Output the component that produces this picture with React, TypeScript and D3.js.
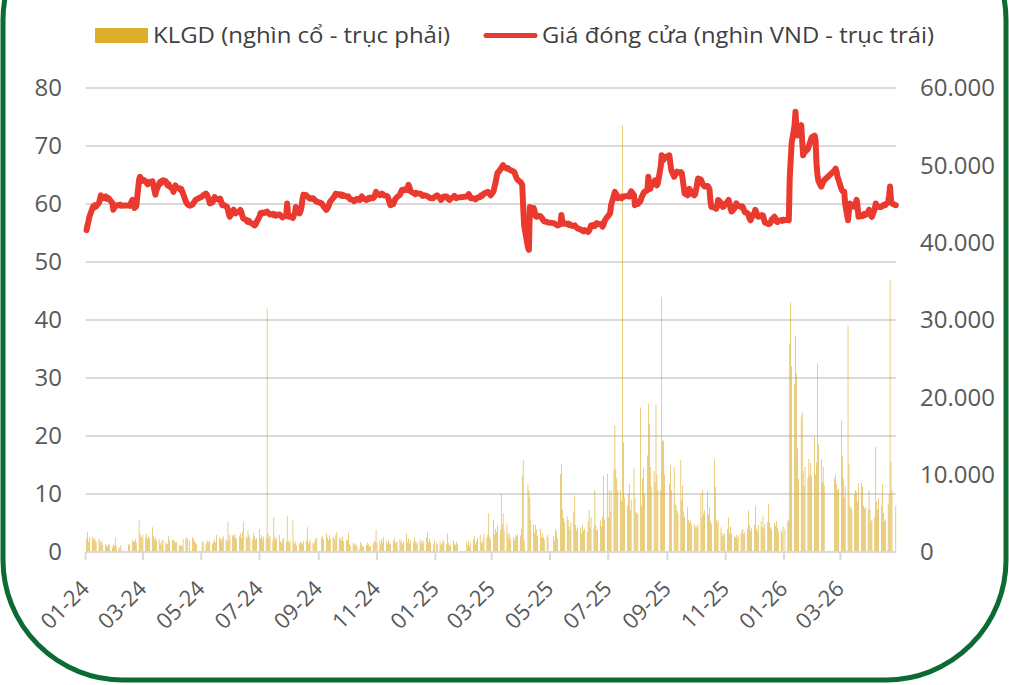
import { useEffect, useRef } from "react";
import * as d3 from "d3";

// Giá đóng cửa (nghìn VND) - one array per month, one value per trading day
const close2024 = [
  [55.5, 56.3, 57.0, 57.8, 59.2, 59.6, 59.4, 59.8, 59.6, 60.2, 60.8, 61.5, 61.2, 61.0, 61.3, 60.9, 61.1, 61.0, 60.8, 60.2, 59.0, 59.6],
  [59.5, 59.8, 59.8, 59.9, 59.7, 59.8, 59.7, 60.7, 60.2, 59.3, 59.5, 59.6, 64.2, 64.7, 64.3, 64.0],
  [64.2, 63.9, 63.6, 63.4, 63.6, 63.8, 63.9, 63.2, 62.4, 61.6, 62.3, 63.5, 63.8, 63.6, 64.0, 64.1, 63.9, 63.5, 63.2, 63.4, 63.0],
  [62.6, 62.1, 62.8, 63.2, 62.9, 62.7, 62.5, 62.6, 62.2, 61.8, 60.4, 60.1, 59.9, 59.7, 59.9, 60.2, 60.4, 60.7, 60.8],
  [61.3, 61.5, 61.8, 61.6, 61.2, 60.8, 60.1, 60.3, 60.8, 61.2, 61.0, 60.9, 60.7, 60.9, 60.3, 59.8, 59.9, 59.6, 59.5, 59.0, 58.2, 57.8],
  [58.8, 59.0, 58.6, 58.4, 58.5, 58.7, 59.0, 58.6, 58.0, 57.5, 57.3, 57.0, 56.9, 57.1, 56.8, 56.6, 56.4, 56.3, 56.5, 56.9],
  [57.8, 58.4, 58.3, 58.5, 58.4, 58.6, 58.7, 58.5, 58.3, 58.2, 58.3, 58.1, 58.2, 58.0, 58.1, 58.2, 58.0, 57.9, 57.7, 57.8, 58.0, 60.1, 58.0],
  [57.8, 57.9, 57.6, 58.1, 58.3, 59.5, 59.0, 58.4, 58.8, 59.5, 60.8, 61.6, 61.5, 61.3, 61.2, 61.0, 60.9, 61.0, 60.8, 60.7, 60.5, 60.4],
  [60.1, 59.9, 59.6, 59.0, 59.2, 59.5, 60.0, 60.4, 61.0, 61.2, 61.5, 61.8, 61.6, 61.7, 61.5, 61.6, 61.4, 61.5, 61.3],
  [61.2, 61.3, 61.0, 60.8, 60.7, 60.5, 60.6, 60.7, 60.9, 60.7, 61.0, 61.3, 61.1, 60.9, 60.7, 60.8, 61.0, 60.9, 61.1, 61.0, 61.2, 61.6, 62.1],
  [61.8, 61.5, 61.6, 61.8, 61.7, 61.5, 61.4, 61.3, 60.9, 60.3, 59.8, 60.0, 60.4, 60.8, 61.0, 61.2, 61.6, 62.0, 62.4, 62.3, 62.5],
  [62.4, 62.8, 63.3, 62.9, 62.2, 61.9, 61.8, 61.7, 61.9, 61.8, 61.8, 61.7, 61.5, 61.4, 61.5, 61.4, 61.3, 61.2, 61.1, 61.0, 61.0, 61.2],
];
const close2025 = [
  [61.4, 61.5, 61.0, 60.7, 60.9, 61.2, 61.3, 61.3, 61.0, 60.8, 60.7, 60.9, 61.2, 61.4, 61.2, 61.0, 61.1],
  [61.3, 61.5, 61.7, 61.4, 61.0, 61.0, 60.9, 60.8, 60.9, 61.1, 61.2, 61.5, 61.4, 61.6, 61.8, 62.0, 62.1, 61.9, 61.7, 61.5],
  [62.2, 63.0, 63.6, 64.5, 65.3, 65.9, 66.2, 66.5, 66.7, 66.4, 66.1, 66.2, 66.0, 65.9, 65.8, 65.6, 65.4, 64.9, 64.5, 64.2, 63.8],
  [63.6, 63.3, 59.5, 56.3, 52.5, 52.1, 59.5, 59.3, 59.3, 58.7, 57.9, 57.8, 58.0, 57.9, 57.7, 57.5, 57.2, 57.0, 56.9, 56.8],
  [56.7, 56.6, 56.5, 56.4, 56.3, 56.5, 58.1, 57.0, 56.6, 56.7, 56.5, 56.6, 56.4, 56.5, 56.3, 56.2, 56.3, 56.1, 55.9, 55.8],
  [55.6, 55.5, 55.4, 55.3, 55.5, 55.3, 55.2, 55.4, 55.8, 56.3, 56.4, 56.2, 56.5, 56.7, 56.6, 56.5, 56.3, 56.1, 56.4, 57.0, 57.8],
  [57.9, 58.2, 58.4, 59.8, 61.5, 62.1, 61.8, 61.5, 61.0, 61.2, 61.0, 61.3, 61.2, 61.3, 61.4, 61.5, 61.3, 61.8, 62.2, 61.5, 59.8, 60.2, 60.4],
  [60.0, 60.6, 61.2, 61.5, 61.9, 62.1, 62.4, 64.7, 63.5, 62.6, 63.2, 63.6, 64.1, 63.8, 63.2, 63.6, 66.5, 68.4, 67.9, 67.6, 68.0],
  [68.4, 67.0, 65.8, 64.7, 65.0, 65.3, 65.6, 65.4, 65.5, 65.3, 64.2, 63.0, 61.8, 61.5, 62.0, 62.6, 62.3, 61.8, 61.5, 61.7],
  [62.5, 63.4, 64.4, 64.2, 63.8, 63.4, 63.2, 63.0, 63.1, 62.9, 62.5, 60.5, 59.5, 59.4, 59.3, 59.2, 59.6, 60.7, 60.2, 59.8, 59.5, 59.6, 59.9],
  [60.4, 60.7, 60.1, 59.3, 58.7, 59.2, 59.6, 60.1, 59.9, 59.7, 59.5, 59.6, 59.4, 59.0, 58.6, 58.4, 58.0, 57.5, 57.2, 57.6],
  [58.5, 59.0, 58.6, 58.0, 57.8, 57.9, 58.1, 58.0, 57.4, 56.8, 56.6, 56.5, 56.6, 56.8, 57.3, 57.8, 57.5, 57.0, 56.9, 57.1, 57.2, 57.1, 57.3],
];
const close2026 = [
  [57.2, 57.3, 57.2, 64.5, 67.6, 70.5, 73.5, 75.9, 73.0, 71.8, 72.5, 73.6, 71.0, 68.4, 68.8, 69.0, 69.5, 70.0, 70.5, 71.0, 71.5],
  [71.8, 71.0, 67.0, 65.0, 64.0, 63.0, 63.4, 63.8, 64.1, 65.8, 66.1, 65.6, 64.7, 64.2],
  [62.6, 62.3, 62.1, 62.1, 60.0, 57.2, 59.0, 60.1, 59.8, 59.6, 59.5, 60.2, 60.7, 59.5, 57.8, 58.0, 57.9, 58.1, 58.3, 58.1, 58.6, 59.0],
  [58.8, 58.0, 57.8, 59.2, 60.1, 59.8, 59.6, 59.5, 59.5, 59.7, 59.8, 59.9, 59.8, 60.3, 61.5, 63.0, 60.6, 60.1, 59.8],
];

// KLGD (triệu cổ, i.e. x1000 nghìn cổ) - one array per month
const vol2024 = [
  [1.8, 2.6, 1.3, 1.9, 2.0, 1.6, 1.8, 1.5, 1.3, 1.7, 1.5, 1.2, 1.4, 0.9, 1.1, 0.8, 0.7, 1.0, 0.9, 0.6, 1.0, 0.8],
  [1.9, 0.8, 0.6, 0.5, 0.9, 1.0, 0.9, 1.5, 1.4, 1.3, 1.7, 1.2, 4.2, 2.4, 2.0, 1.8],
  [2.2, 1.9, 2.4, 1.7, 2.0, 1.8, 3.2, 2.1, 1.6, 1.9, 1.5, 1.7, 1.2, 0.9, 1.4, 1.6, 1.3, 1.0, 1.1, 2.0, 1.5],
  [1.6, 1.5, 1.4, 1.2, 1.3, 0.9, 0.8, 0.9, 0.7, 1.7, 1.9, 1.6, 1.8, 1.5, 1.9, 1.7, 1.4, 1.2, 1.0],
  [1.2, 1.4, 1.0, 1.3, 1.5, 1.2, 1.4, 1.1, 1.3, 1.6, 1.2, 2.2, 1.9, 1.7, 1.4, 1.8, 2.0, 1.6, 1.4, 3.9, 1.5, 2.2],
  [2.2, 2.0, 2.3, 1.9, 1.7, 2.1, 2.4, 1.8, 2.6, 3.9, 2.0, 1.8, 2.8, 2.2, 1.9, 1.7, 2.5, 2.1, 1.6, 1.8],
  [3.0, 1.8, 2.2, 1.6, 2.0, 1.9, 31.5, 2.4, 1.7, 2.1, 1.5, 4.5, 2.0, 1.6, 1.9, 2.2, 1.4, 1.2, 1.6, 1.8, 1.3, 4.7, 1.5],
  [1.2, 1.5, 4.1, 1.3, 1.0, 1.4, 0.9, 1.1, 1.3, 1.2, 1.0, 1.4, 1.5, 3.2, 1.1, 1.3, 1.6, 1.2, 1.0, 1.4, 1.7, 1.9],
  [1.8, 2.1, 1.6, 2.4, 1.9, 1.5, 2.2, 1.7, 2.0, 1.8, 1.6, 2.3, 2.6, 1.9, 1.7, 1.5, 2.0, 1.4, 1.6],
  [1.5, 2.5, 1.0, 0.8, 1.2, 1.0, 0.9, 1.1, 0.7, 0.5, 1.3, 1.0, 0.8, 0.6, 0.9, 1.2, 1.0, 0.7, 0.8, 1.1, 1.3, 1.4, 2.9],
  [1.2, 1.5, 1.0, 1.7, 1.3, 1.9, 1.4, 1.1, 1.6, 1.2, 1.0, 1.5, 1.8, 1.3, 1.1, 1.4, 1.7, 1.2, 1.5, 1.0, 1.3],
  [2.4, 1.3, 1.7, 1.1, 1.5, 1.2, 1.8, 1.4, 1.0, 1.3, 1.6, 1.2, 1.5, 1.1, 1.4, 1.9, 2.6, 1.3, 1.7, 1.2, 1.0, 1.5],
];
const vol2025 = [
  [1.2, 1.0, 1.4, 0.9, 1.1, 1.3, 1.6, 1.0, 2.4, 1.2, 0.8, 1.0, 1.5, 1.1, 0.9, 1.3, 1.0],
  [1.3, 0.9, 1.5, 0.7, 1.2, 1.6, 2.1, 1.0, 1.4, 1.8, 2.2, 1.3, 1.1, 1.7, 2.4, 1.9, 2.3, 5.0, 2.0, 1.6],
  [4.1, 2.3, 3.0, 2.6, 3.4, 2.8, 7.5, 3.6, 5.0, 2.9, 3.7, 2.5, 1.9, 2.4, 1.6, 1.9, 1.5, 2.2, 2.0, 2.3, 2.1],
  [3.0, 9.9, 11.9, 1.5, 8.8, 8.0, 7.1, 4.1, 3.6, 2.5, 3.5, 2.9, 2.1, 3.0, 1.8, 2.4, 1.9, 1.6, 2.2, 1.9],
  [2.0, 1.5, 3.0, 2.6, 1.8, 10.1, 11.4, 5.5, 4.4, 3.9, 4.6, 4.2, 3.3, 2.9, 3.8, 5.2, 7.3, 3.5, 2.8, 3.1],
  [3.2, 2.4, 3.5, 2.8, 3.0, 2.6, 4.0, 5.4, 3.2, 4.5, 3.0, 8.0, 3.5, 2.8, 2.9, 4.1, 3.3, 4.6, 9.9, 4.2, 10.1],
  [4.5, 8.0, 5.2, 8.0, 10.6, 16.4, 10.8, 9.5, 8.0, 8.0, 6.6, 55.2, 14.2, 7.0, 6.0, 7.4, 8.8, 5.5, 6.8, 10.8, 7.0, 5.2, 5.0],
  [5.0, 18.7, 6.0, 9.5, 10.8, 7.5, 12.5, 19.2, 16.6, 11.0, 8.4, 10.5, 9.0, 19.0, 10.0, 8.0, 8.0, 33.0, 14.4, 14.4, 10.0],
  [8.8, 11.2, 8.0, 11.0, 6.2, 6.0, 5.4, 5.0, 11.9, 6.7, 8.6, 5.2, 4.5, 5.8, 4.2, 3.8, 4.1, 3.5, 3.6, 3.2],
  [3.4, 3.0, 3.6, 7.5, 4.5, 8.0, 5.0, 5.4, 7.9, 4.8, 5.8, 4.0, 3.6, 12.0, 8.4, 4.2, 3.8, 4.1, 3.2, 2.5, 2.0, 2.3, 2.4],
  [3.0, 4.5, 2.5, 3.3, 2.4, 2.0, 1.9, 2.2, 1.8, 2.1, 2.4, 2.8, 3.0, 2.3, 2.6, 3.0, 5.4, 3.5, 2.7, 3.1],
  [3.5, 6.0, 3.0, 2.6, 3.5, 4.0, 3.2, 4.7, 3.0, 3.6, 3.9, 6.2, 3.8, 3.2, 2.9, 3.8, 3.4, 4.0, 3.1, 2.7, 2.8, 2.5, 3.3],
];
const vol2026 = [
  [3.0, 4.0, 4.2, 27.0, 32.3, 24.0, 21.8, 28.0, 23.0, 13.4, 9.5, 17.5, 18.0, 10.5, 8.5, 11.0, 9.5, 12.0, 10.0, 11.5, 9.8],
  [14.9, 10.0, 11.6, 24.4, 14.0, 12.0, 9.0, 11.0, 8.6, 9.5, 10.0, 8.8, 8.0, 8.2],
  [17.0, 12.5, 9.5, 7.0, 8.5, 29.3, 11.4, 6.0, 5.8, 5.5, 7.5, 8.0, 7.8, 6.5, 8.9, 9.0, 8.5, 6.0, 5.6, 5.8, 5.5, 8.0],
  [5.5, 4.0, 4.2, 4.5, 13.6, 6.5, 5.5, 7.0, 6.0, 8.8, 5.0, 4.0, 4.2, 6.2, 7.5, 35.2, 11.6, 8.0, 6.0],
];

// market closed on these weekdays
const holidays = [
  "2024-01-01", "2024-02-08", "2024-02-09", "2024-02-12", "2024-02-13", "2024-02-14",
  "2024-04-18", "2024-04-29", "2024-04-30", "2024-05-01", "2024-09-02", "2024-09-03",
  "2025-01-01", "2025-01-27", "2025-01-28", "2025-01-29", "2025-01-30", "2025-01-31",
  "2025-04-07", "2025-04-30", "2025-05-01", "2025-05-02", "2025-09-01", "2025-09-02",
  "2026-01-01", "2026-02-13", "2026-02-16", "2026-02-17", "2026-02-18", "2026-02-19",
  "2026-02-20", "2026-04-27",
];

const leftTicks = [0, 10, 20, 30, 40, 50, 60, 70, 80];
const rightTicks = [0, 10000, 20000, 30000, 40000, 50000, 60000];
const monthLabels = ["01-24", "03-24", "05-24", "07-24", "09-24", "11-24", "01-25", "03-25", "05-25", "07-25", "09-25", "11-25", "01-26", "03-26"];

type Day = { date: Date; close: number; vol: number };

function buildDays(): Day[] {
  const fmt = d3.timeFormat("%Y-%m-%d");
  const off = new Set(holidays);
  const years: [number, number[][], number[][]][] = [
    [2024, close2024, vol2024],
    [2025, close2025, vol2025],
    [2026, close2026, vol2026],
  ];
  const out: Day[] = [];
  years.forEach(([year, closes, vols]) => {
    closes.forEach((monthCloses, m) => {
      const days: Date[] = [];
      for (let d = new Date(year, m, 1); d.getMonth() === m; d = new Date(year, m, d.getDate() + 1)) {
        const wd = d.getDay();
        if (wd === 0 || wd === 6 || off.has(fmt(d))) continue;
        days.push(d);
      }
      const n = Math.min(days.length, monthCloses.length);
      for (let i = 0; i < n; i++) {
        out.push({ date: days[i], close: monthCloses[i], vol: vols[m][i] * 1000 });
      }
    });
  });
  return out;
}

export default function App() {
  const svgRef = useRef<SVGSVGElement | null>(null);

  useEffect(() => {
    const data = buildDays();
    const width = 1009;
    const height = 685;
    const svg = d3.select(svgRef.current);
    svg.selectAll("*").remove();
    svg.attr("width", width).attr("height", height).attr("viewBox", `0 0 ${width} ${height}`);

    const font = "'Open Sans', 'Noto Sans', sans-serif";
    const textColor = "#595959";
    const plotLeft = 85.6;
    const plotRight = 895.8;
    const top = 88;
    const bottom = 552;

    // frame
    svg.append("rect")
      .attr("x", 3).attr("y", -100)
      .attr("width", 1003).attr("height", 780)
      .attr("rx", 120).attr("ry", 120)
      .attr("fill", "#fff")
      .attr("stroke", "#0b6b33")
      .attr("stroke-width", 5);

    const x = d3.scaleTime()
      .domain([new Date(2024, 0, 1), new Date(2026, 3, 28)])
      .range([plotLeft, plotRight]);
    const yL = d3.scaleLinear().domain([0, 80]).range([bottom, top]);
    const yR = d3.scaleLinear().domain([0, 60000]).range([bottom, top]);

    // gridlines
    svg.append("g")
      .selectAll("line")
      .data(leftTicks.filter((t) => t > 0))
      .join("line")
      .attr("x1", plotLeft).attr("x2", plotRight)
      .attr("y1", (d) => yL(d)).attr("y2", (d) => yL(d))
      .attr("stroke", "#d9d9d9")
      .attr("stroke-width", 2);

    // volume bars
    const bw = 0.6;
    svg.append("g")
      .selectAll("rect")
      .data(data)
      .join("rect")
      .attr("x", (d) => x(d.date) - bw / 2)
      .attr("y", (d) => yR(d.vol))
      .attr("width", bw)
      .attr("height", (d) => yR(0) - yR(d.vol))
      .attr("fill", "#dcae2a");

    // x axis
    const tickDates = monthLabels.map((s) => new Date(2000 + +s.slice(3), +s.slice(0, 2) - 1, 1));
    svg.append("line")
      .attr("x1", plotLeft).attr("x2", plotRight)
      .attr("y1", bottom).attr("y2", bottom)
      .attr("stroke", "#d9d9d9").attr("stroke-width", 2);
    svg.append("g")
      .selectAll("line")
      .data(tickDates)
      .join("line")
      .attr("x1", (d) => x(d)).attr("x2", (d) => x(d))
      .attr("y1", bottom).attr("y2", bottom + 8)
      .attr("stroke", "#d9d9d9").attr("stroke-width", 2);
    svg.append("g")
      .selectAll("text")
      .data(monthLabels)
      .join("text")
      .attr("transform", (_, i) => `translate(${x(tickDates[i]) + 5},590) rotate(-45)`)
      .attr("text-anchor", "end")
      .attr("font-family", font)
      .attr("font-size", 22)
      .attr("fill", textColor)
      .text((d) => d);

    // price line
    const line = d3.line<Day>()
      .x((d) => x(d.date))
      .y((d) => yL(d.close));
    svg.append("path")
      .datum(data)
      .attr("d", line)
      .attr("fill", "none")
      .attr("stroke", "#ea3a30")
      .attr("stroke-width", 6)
      .attr("stroke-linejoin", "round")
      .attr("stroke-linecap", "round");

    // left axis
    svg.append("g")
      .selectAll("text")
      .data(leftTicks)
      .join("text")
      .attr("x", 62)
      .attr("y", (d) => yL(d))
      .attr("dy", "0.35em")
      .attr("text-anchor", "end")
      .attr("font-family", font)
      .attr("font-size", 24)
      .attr("fill", textColor)
      .text((d) => d);

    // right axis
    const vn = d3.formatLocale({ decimal: ",", thousands: ".", grouping: [3], currency: ["", ""] });
    svg.append("g")
      .selectAll("text")
      .data(rightTicks)
      .join("text")
      .attr("x", 920)
      .attr("y", (d) => yR(d))
      .attr("dy", "0.35em")
      .attr("font-family", font)
      .attr("font-size", 24)
      .attr("fill", textColor)
      .text((d) => vn.format(",")(d));

    // legend
    const legend = svg.append("g").attr("font-family", font).attr("font-size", 21).attr("fill", "#404040");
    legend.append("rect").attr("x", 95).attr("y", 28).attr("width", 53).attr("height", 15).attr("fill", "#dcae2a");
    legend.append("text").attr("x", 153).attr("y", 43)
      .attr("textLength", 297).attr("lengthAdjust", "spacingAndGlyphs")
      .text("KLGD (nghìn cổ - trục phải)");
    legend.append("line").attr("x1", 486).attr("x2", 535).attr("y1", 35.5).attr("y2", 35.5)
      .attr("stroke", "#ea3a30").attr("stroke-width", 5).attr("stroke-linecap", "round");
    legend.append("text").attr("x", 542).attr("y", 43)
      .attr("textLength", 392).attr("lengthAdjust", "spacingAndGlyphs")
      .text("Giá đóng cửa (nghìn VND - trục trái)");
  }, []);

  return (
    <div style={{ position: "absolute", left: 0, top: 0 }}>
      <svg ref={svgRef} style={{ display: "block" }} />
    </div>
  );
}
